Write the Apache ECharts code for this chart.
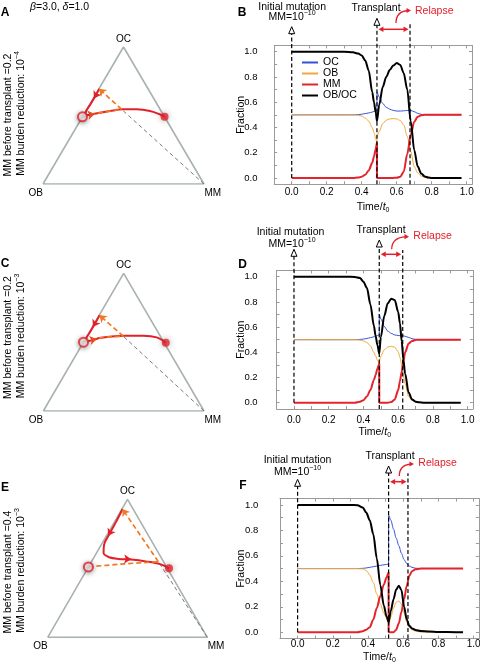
<!DOCTYPE html>
<html><head><meta charset="utf-8">
<script src="https://cdn.jsdelivr.net/npm/echarts@6/dist/echarts.min.js"></script>
<style>html,body{margin:0;padding:0;background:#fff}#c{width:480px;height:667px}</style>
</head><body><div id="c"></div>
<script>
// ================= DATA =================
const seriesNames = ['OC', 'OB', 'MM', 'OB/OC'];
const xTickLabels = [0, 0.2, 0.4, 0.6, 0.8, 1.0];
const xTicks = [-0.1, 0, 0.1, 0.2, 0.3, 0.4, 0.5, 0.6, 0.7, 0.8, 0.9, 1.0];
const yTickLabels = [0, 0.2, 0.4, 0.6, 0.8, 1.0];
const yTicks = [0, 0.1, 0.2, 0.3, 0.4, 0.5, 0.6, 0.7, 0.8, 0.9, 1.0];

const initialT = 0;
const transplantT = [0.487, 0.491, 0.517];   // B, D, F
const relapseT = [0.676, 0.626, 0.627];

// Panel B
const tB =     [0,0.1,0.2,0.3, 0.35,0.38,0.40,0.42,0.44,0.46,0.47,0.48,0.487, 0.487, 0.50,0.52,0.54,0.56,0.58,0.60,0.62,0.64,0.66,0.68,0.70,0.72,0.74,0.76,0.78,0.80, 0.85,0.90,0.97];
const ocB =    [0.5,0.5,0.5,0.5, 0.5,0.502,0.505,0.51,0.515,0.522,0.527,0.532,0.535, 0.68, 0.64,0.59,0.56,0.545,0.535,0.53,0.53,0.532,0.535,0.535,0.525,0.512,0.504,0.501,0.5,0.5, 0.5,0.5,0.5];
const obB =    [0.5,0.5,0.5,0.5, 0.5,0.497,0.49,0.475,0.45,0.40,0.36,0.31,0.28, 0.33, 0.37,0.43,0.457,0.468,0.47,0.468,0.455,0.42,0.33,0.21,0.09,0.04,0.015,0.005,0,0, 0,0,0];
const mmB =    [0,0,0,0, 0,0.003,0.01,0.025,0.06,0.12,0.17,0.23,0.28, 0, 0,0,0,0,0,0.002,0.01,0.05,0.19,0.34,0.445,0.485,0.497,0.5,0.5,0.5, 0.5,0.5,0.5];
const ratioB = [1,1,1,1, 0.995,0.985,0.97,0.93,0.85,0.68,0.60,0.52,0.45, 0.45, 0.58,0.72,0.80,0.855,0.89,0.91,0.895,0.83,0.70,0.45,0.22,0.09,0.035,0.012,0.004,0, 0,0,0];

// Panel D
const tD =     [0,0.1,0.2,0.3, 0.35,0.38,0.40,0.42,0.44,0.46,0.47,0.48,0.491, 0.491, 0.50,0.52,0.54,0.56,0.58,0.60,0.61,0.62,0.63,0.64,0.66,0.68,0.70,0.72, 0.75,0.8,0.9,0.96];
const ocD =    [0.5,0.5,0.5,0.5, 0.5,0.502,0.505,0.51,0.516,0.523,0.528,0.533,0.538, 0.70, 0.665,0.605,0.568,0.55,0.538,0.533,0.532,0.531,0.53,0.527,0.518,0.508,0.503,0.5, 0.5,0.5,0.5,0.5];
const obD =    [0.5,0.5,0.5,0.5, 0.5,0.497,0.49,0.478,0.45,0.40,0.37,0.34,0.31, 0.33, 0.37,0.42,0.442,0.448,0.44,0.405,0.36,0.30,0.215,0.15,0.05,0.018,0.006,0.002, 0,0,0,0];
const mmD =    [0,0,0,0, 0,0.008,0.02,0.05,0.10,0.18,0.22,0.27,0.31, 0, 0,0,0,0.005,0.025,0.10,0.17,0.246,0.33,0.40,0.47,0.49,0.498,0.5, 0.5,0.5,0.5,0.5];
const ratioD = [1,1,1,1, 0.998,0.99,0.96,0.91,0.78,0.61,0.53,0.46,0.39, 0.39, 0.52,0.69,0.79,0.825,0.815,0.72,0.63,0.49,0.34,0.23,0.08,0.025,0.008,0.003, 0,0,0,0];

// Panel F
const tF =     [0,0.1,0.2,0.3, 0.34,0.37,0.39,0.41,0.43,0.45,0.47,0.49,0.505,0.517, 0.517, 0.53,0.545,0.56,0.575,0.59,0.605,0.62,0.635,0.65,0.67,0.70, 0.75,0.8,0.9,0.94];
const ocF =    [0.5,0.5,0.5,0.5, 0.5,0.502,0.505,0.51,0.515,0.52,0.525,0.53,0.533,0.535, 0.92, 0.88,0.81,0.74,0.68,0.62,0.57,0.54,0.52,0.51,0.503,0.5, 0.5,0.5,0.5,0.5];
const obF =    [0.5,0.5,0.5,0.5, 0.5,0.497,0.485,0.45,0.39,0.30,0.22,0.15,0.11,0.08, 0.06, 0.12,0.19,0.235,0.246,0.22,0.15,0.08,0.04,0.02,0.008,0.002, 0,0,0,0];
const mmF =    [0,0,0,0, 0,0.008,0.02,0.04,0.10,0.19,0.285,0.375,0.43,0.47, 0, 0,0,0.02,0.07,0.16,0.26,0.365,0.445,0.48,0.495,0.5, 0.5,0.5,0.5,0.5];
const ratioF = [1,1,1,1, 0.998,0.98,0.94,0.88,0.77,0.58,0.37,0.21,0.125,0.08, 0.08, 0.17,0.26,0.335,0.366,0.33,0.20,0.10,0.05,0.03,0.018,0.01, 0.005,0.002,0,0];

// Ternary points: [OC fraction, MM fraction]
const triVerts = [[0,0],[0,1],[1,0],[0,0]];   // OB, MM, OC, OB
const mmVertex = [0,1];
// A
const startA = [0.49, 0], endA = [0.49, 0.51];
const preA  = [[0.49,0],[0.51,0.06],[0.53,0.14],[0.545,0.216]];
const jumpA = [[0.545,0.216],[0.695,0.0]];
const postA = [[0.695,0.003],[0.64,0.004],[0.58,0.004],[0.52,0.005],[0.503,0.02],[0.515,0.07],[0.533,0.15],[0.545,0.226],[0.545,0.31],[0.533,0.398],[0.509,0.47],[0.49,0.51]];
const arrowsA = [[[0.505,0.04],[0.511,0.066],'pre'],[[0.655,0.004],[0.625,0.004],'post']];
// C
const startC = [0.5, 0], endC = [0.496, 0.514];
const preC  = [[0.5,0],[0.516,0.03],[0.532,0.09],[0.543,0.226]];
const jumpC = [[0.543,0.226],[0.697,0.0]];
const postC = [[0.697,0.003],[0.64,0.004],[0.57,0.004],[0.52,0.006],[0.507,0.02],[0.52,0.06],[0.532,0.09],[0.547,0.224],[0.547,0.349],[0.535,0.438],[0.496,0.514]];
const arrowsC = [[[0.515,0.045],[0.522,0.072],'pre'],[[0.64,0.004],[0.61,0.004],'post']];
// E
const startE = [0.51, 0], endE = [0.5, 0.51];
const preE  = [[0.51,0],[0.53,0.19],[0.548,0.419]];
const jumpE = [[0.548,0.419],[0.93,0.003]];
const postE = [[0.93,0.004],[0.84,0.01],[0.75,0.012],[0.67,0.018],[0.61,0.045],[0.58,0.095],[0.568,0.16],[0.563,0.24],[0.55,0.34],[0.53,0.44],[0.5,0.51]];
const arrowsE = [[[0.77,0.011],[0.735,0.012],'post'],[[0.567,0.205],[0.565,0.24],'post']];

// ================= STYLE / LAYOUT =================
const FONT = '"Liberation Sans", Arial, Helvetica, sans-serif';
const C_OC = '#3552d8', C_OB = '#f2a93a', C_MM = '#e3242d', C_R = '#000000';
const C_TRI = '#a8b2af', C_ORG = '#f07a22', C_RED = '#e3202a', C_FRAME = '#9a9a9a';

function zip(t, v) { return t.map((x, i) => [x, v[i]]); }
function tern(p) { return [p[1] + p[0] / 2, p[0]]; }

const grids = [
  {left: 43, top: 47, width: 161, height: 137},           // A
  {left: 43.3, top: 273.3, width: 160.7, height: 137.7},  // C
  {left: 47.7, top: 499.3, width: 159.6, height: 138},    // E
  {left: 274.2, top: 45.4, width: 197.8, height: 138.9},  // B
  {left: 276.6, top: 270.4, width: 196.3, height: 138.6}, // D
  {left: 280, top: 498.6, width: 198.9, height: 140}      // F
];

const xAxes = [], yAxes = [];
for (let i = 0; i < 3; i++) {
  xAxes.push({gridIndex: i, type: 'value', min: 0, max: 1, show: false});
  yAxes.push({gridIndex: i, type: 'value', min: 0, max: 1, show: false});
}
const panelAxis = [
  {g: 3, xm: 3, ym: 16.7, xg: 15.4, yg: 28},
  {g: 4, xm: 6, ym: 19, xg: 15.7, yg: 30.4},
  {g: 5, xm: 1, ym: 21.7, xg: 11.1, yg: 33.8}
];
const nameRich = {
  i: {fontStyle: 'italic', fontSize: 10.5, fontFamily: FONT, color: '#000', lineHeight: 14},
  s: {fontSize: 7, fontFamily: FONT, color: '#000', lineHeight: 8, verticalAlign: 'bottom'}
};
panelAxis.forEach(p => {
  const line = {onZero: false, lineStyle: {color: C_FRAME, width: 1}};
  const tick = {inside: true, length: 3, customValues: xTicks, lineStyle: {color: C_FRAME, width: 1}};
  const ytick = {inside: true, length: 3, customValues: yTicks, lineStyle: {color: C_FRAME, width: 1}};
  xAxes.push({gridIndex: p.g, type: 'value', min: -0.1, max: 1.03, position: 'bottom',
    axisLine: line, axisTick: tick, splitLine: {show: false},
    axisLabel: {customValues: xTickLabels, formatter: v => v.toFixed(1), color: '#000', fontSize: 10, fontFamily: FONT, margin: p.xm},
    name: 'Time/{i|t}{s|0}', nameLocation: 'middle', nameGap: p.xg, nameMoveOverlap: false,
    nameTextStyle: {color: '#000', fontSize: 10.5, fontFamily: FONT, lineHeight: 14, rich: nameRich}});
  xAxes.push({gridIndex: p.g, type: 'value', min: -0.1, max: 1.03, position: 'top',
    axisLine: line, axisTick: tick, splitLine: {show: false}, axisLabel: {show: false}});
  yAxes.push({gridIndex: p.g, type: 'value', min: -0.05, max: 1.05, position: 'left',
    axisLine: line, axisTick: ytick, splitLine: {show: false},
    axisLabel: {customValues: yTickLabels, formatter: v => v.toFixed(1), color: '#000', fontSize: 9.5, fontFamily: FONT, margin: p.ym},
    name: 'Fraction', nameLocation: 'middle', nameGap: p.yg, nameMoveOverlap: false,
    nameTextStyle: {color: '#000', fontSize: 10.5, fontFamily: FONT}});
  yAxes.push({gridIndex: p.g, type: 'value', min: -0.05, max: 1.05, position: 'right',
    axisLine: line, axisTick: ytick, splitLine: {show: false}, axisLabel: {show: false}});
});

const series = [];
const triIdx = [];
function ternSeries(ai, start, end, pre, jump, post, arrows) {
  triIdx.push(series.length);
  const ax = {xAxisIndex: ai, yAxisIndex: ai};
  series.push(Object.assign({type: 'line', data: triVerts.map(tern), symbol: 'none', silent: true,
    lineStyle: {color: C_TRI, width: 1.6}, z: 1}, ax));
  series.push(Object.assign({type: 'line', data: [mmVertex, jump[0]].map(tern), symbol: 'none', silent: true,
    lineStyle: {color: '#7a7a7a', width: 1, type: [4, 3]}, z: 2}, ax));
  series.push(Object.assign({type: 'line', data: post.map(tern), symbol: 'none', silent: true, smooth: 0.35,
    lineStyle: {color: C_RED, width: 2}, z: 3}, ax));
  series.push(Object.assign({type: 'line', data: pre.map(tern), symbol: 'none', silent: true, smooth: 0.3,
    lineStyle: {color: C_ORG, width: 1.7, type: [5, 3]}, z: 4}, ax));
  series.push(Object.assign({type: 'lines', coordinateSystem: 'cartesian2d', silent: true,
    symbol: ['none', 'arrow'], symbolSize: 7,
    lineStyle: {color: C_ORG, width: 1.7, type: [5, 3], opacity: 1, curveness: 0},
    data: [{coords: jump.map(tern)}], z: 4}, ax));
  arrows.forEach(a => {
    const col = a[2] === 'pre' ? '#ec4a24' : C_RED;
    series.push(Object.assign({type: 'lines', coordinateSystem: 'cartesian2d', silent: true,
      symbol: ['none', 'arrow'], symbolSize: 7,
      lineStyle: {color: col, width: 1.5, opacity: 1, curveness: 0},
      data: [{coords: [tern(a[0]), tern(a[1])]}], z: 5}, ax));
  });
  series.push(Object.assign({type: 'scatter', data: [tern(start)], symbol: 'circle', symbolSize: 9, silent: true,
    itemStyle: {color: '#fff', borderColor: C_RED, borderWidth: 2, shadowBlur: 5, shadowColor: 'rgba(0,0,0,0.45)', shadowOffsetY: 1}, z: 6}, ax));
  series.push(Object.assign({type: 'scatter', data: [tern(end)], symbol: 'circle', symbolSize: 8, silent: true,
    itemStyle: {color: C_RED, shadowBlur: 6, shadowColor: 'rgba(0,0,0,0.4)'}, z: 6}, ax));
}
ternSeries(0, startA, endA, preA, jumpA, postA, arrowsA);
ternSeries(1, startC, endC, preC, jumpC, postC, arrowsC);
ternSeries(2, startE, endE, preE, jumpE, postE, arrowsE);

const tsIdx = [];
function tsSeries(xi, yi, t, oc, ob, mm, r) {
  tsIdx.push(series.length);
  const common = {type: 'line', xAxisIndex: xi, yAxisIndex: yi, symbol: 'none', silent: true, smooth: 0.3, smoothMonotone: 'x'};
  series.push(Object.assign({name: 'OC', data: zip(t, oc), lineStyle: {color: C_OC, width: 1}, itemStyle: {color: C_OC}, z: 3}, common));
  series.push(Object.assign({name: 'OB', data: zip(t, ob), lineStyle: {color: C_OB, width: 1}, itemStyle: {color: C_OB}, z: 3}, common));
  series.push(Object.assign({name: 'MM', data: zip(t, mm), lineStyle: {color: C_MM, width: 2}, itemStyle: {color: C_MM}, z: 4}, common));
  series.push(Object.assign({name: 'OB/OC', data: zip(t, r), lineStyle: {color: C_R, width: 2}, itemStyle: {color: C_R}, z: 5}, common));
}
tsSeries(3, 3, tB, ocB, obB, mmB, ratioB);
tsSeries(5, 5, tD, ocD, obD, mmD, ratioD);
tsSeries(7, 7, tF, ocF, obF, mmF, ratioF);

const option = {
  animation: false,
  backgroundColor: '#fff',
  textStyle: {fontFamily: FONT},
  grid: grids.map(g => Object.assign({outerBoundsMode: 'none', containLabel: false}, g)),
  xAxis: xAxes,
  yAxis: yAxes,
  legend: {
    data: seriesNames.map(n => ({name: n, icon: 'rect'})),
    orient: 'vertical', left: 302, top: 57, itemWidth: 16, itemHeight: 2, itemGap: 0, padding: 0,
    selectedMode: false,
    textStyle: {fontSize: 10.5, lineHeight: 9.7, color: '#000', fontFamily: FONT}
  },
  series: series
};

const chart = echarts.init(document.getElementById('c'), null, {renderer: 'canvas'});
chart.setOption(option);

// ================= ANNOTATIONS =================
const G = [];
const DASH = [4, 2.5];
function txt(x, y, text, extra, elExtra) {
  G.push(Object.assign({type: 'text', x: x, y: y, z: 60,
    style: Object.assign({text: text, fill: '#000', fontSize: 10.5, fontFamily: FONT, align: 'center', verticalAlign: 'middle'}, extra || {})}, elExtra || {}));
}
function vline(x, y1, y2) {
  G.push({type: 'line', z: 50, shape: {x1: x, y1: y1, x2: x, y2: y2}, style: {stroke: '#000', lineWidth: 1.2, lineDash: DASH}});
}
function openArrow(x, yTop) {
  G.push({type: 'polygon', z: 51, shape: {points: [[x, yTop], [x - 3, yTop + 7], [x + 3, yTop + 7]]}, style: {fill: '#fff', stroke: '#000', lineWidth: 1}});
}
function head(x, y, dx, dy, len, w, color) {
  const n = Math.hypot(dx, dy), ux = dx / n, uy = dy / n, bx = x - ux * len, by = y - uy * len;
  G.push({type: 'polygon', z: 52, shape: {points: [[x, y], [bx - uy * w, by + ux * w], [bx + uy * w, by - ux * w]]}, style: {fill: color}});
}
const supRich = {
  a: {fontSize: 10.5, fontFamily: FONT, fill: '#000', color: '#000', lineHeight: 15},
  s: {fontSize: 7, fontFamily: FONT, fill: '#000', color: '#000', lineHeight: 8, verticalAlign: 'top'}
};
const ann = [
  {si: tsIdx[0], k: 0, initTop: 26.7, transTop: 18.3, relTop: 22.7, daY: 29.3,
   initTxt: [292.2, 7.3], mmTxt: [292, 17.5], transTxt: [376, 8.3], relTxt: [415, 11], cs: [396, 23], ce: [411, 10.5], letter: [242, 12.7, 'B']},
  {si: tsIdx[1], k: 1, initTop: 249.3, transTop: 240, relTop: 250, daY: 254.3,
   initTxt: [290.5, 231.7], mmTxt: [292, 244], transTxt: [381, 230], relTxt: [413.3, 236], cs: [391.7, 249.3], ce: [409, 236.7], letter: [242.5, 264.2, 'D']},
  {si: tsIdx[2], k: 2, initTop: 479.3, transTop: 466, relTop: 473.3, daY: 481.7,
   initTxt: [297.5, 460], mmTxt: [297.5, 472.3], transTxt: [390, 456], relTxt: [418.3, 462.7], cs: [399.3, 476], ce: [414, 464], letter: [243, 485.8, 'F']}
];
ann.forEach(a => {
  const f = {seriesIndex: a.si};
  const Xi = chart.convertToPixel(f, [initialT, 0])[0];
  const Y0 = chart.convertToPixel(f, [initialT, 0])[1];
  const Yb = chart.convertToPixel(f, [0, -0.05])[1];
  const Xt = chart.convertToPixel(f, [transplantT[a.k], 0])[0];
  const Xr = chart.convertToPixel(f, [relapseT[a.k], 0])[0];
  vline(Xi, Y0, a.initTop + 7); openArrow(Xi, a.initTop);
  vline(Xt, Yb, a.transTop + 7); openArrow(Xt, a.transTop);
  vline(Xr, Yb, a.relTop);
  G.push({type: 'line', z: 52, shape: {x1: Xt + 4, y1: a.daY, x2: Xr - 4, y2: a.daY}, style: {stroke: C_RED, lineWidth: 1.5}});
  head(Xt + 1.5, a.daY, -1, 0, 5, 2.8, C_RED);
  head(Xr - 1.5, a.daY, 1, 0, 5, 2.8, C_RED);
  const cp = [a.cs[0], a.ce[1] + 1];
  G.push({type: 'bezierCurve', z: 52, shape: {x1: a.cs[0], y1: a.cs[1], x2: a.ce[0] - 3, y2: a.ce[1], cpx1: cp[0], cpy1: cp[1]},
    style: {stroke: C_RED, lineWidth: 1.3, fill: 'none'}});
  head(a.ce[0], a.ce[1], 1, 0, 4.5, 2.6, C_RED);
  txt(a.initTxt[0], a.initTxt[1], 'Initial mutation');
  txt(a.mmTxt[0], a.mmTxt[1], '{a|MM=10}{s|\u221210}', {rich: supRich});
  txt(a.transTxt[0], a.transTxt[1], 'Transplant');
  txt(a.relTxt[0], a.relTxt[1], 'Relapse', {fill: C_RED, align: 'left'});
  txt(a.letter[0], a.letter[1], a.letter[2], {fontSize: 12, fontWeight: 'bold'});
});

const ternLab = [
  {k: 0, letter: [5, 12.5, 'A'], mmb: '0.2', red: '\u22124', ty: 115},
  {k: 1, letter: [5, 263.3, 'C'], mmb: '0.2', red: '\u22123', ty: 337.5},
  {k: 2, letter: [5, 488, 'E'], mmb: '0.4', red: '\u22123', ty: 572}
];
ternLab.forEach(t => {
  const f = {seriesIndex: triIdx[t.k]};
  const pOC = chart.convertToPixel(f, tern([1, 0]));
  const pOB = chart.convertToPixel(f, tern([0, 0]));
  const pMM = chart.convertToPixel(f, tern([0, 1]));
  txt(pOC[0], pOC[1] - 7.7, 'OC', {fontSize: 10});
  txt(pOB[0] - 7.3, pOB[1] + 9.3, 'OB', {fontSize: 10});
  txt(pMM[0] + 8.8, pMM[1] + 9.3, 'MM', {fontSize: 10});
  txt(t.letter[0], t.letter[1], t.letter[2], {fontSize: 12, fontWeight: 'bold'});
  txt(8.5, t.ty, 'MM before transplant =' + t.mmb, {}, {rotation: Math.PI / 2});
  txt(21.5, t.ty - 1.5, '{a|MM burden reduction: 10}{s|' + t.red + '}', {rich: supRich}, {rotation: Math.PI / 2});
});
txt(30, 6.7, '{i|\u03b2}{a|=3.0, }{i|\u03b4}{a|=1.0}', {align: 'left', rich: {
  i: {fontSize: 10.5, fontFamily: FONT, fontStyle: 'italic', fill: '#000', color: '#000'},
  a: {fontSize: 10.5, fontFamily: FONT, fill: '#000', color: '#000'}
}});

chart.setOption({graphic: {elements: G}});
</script>
</body></html>
